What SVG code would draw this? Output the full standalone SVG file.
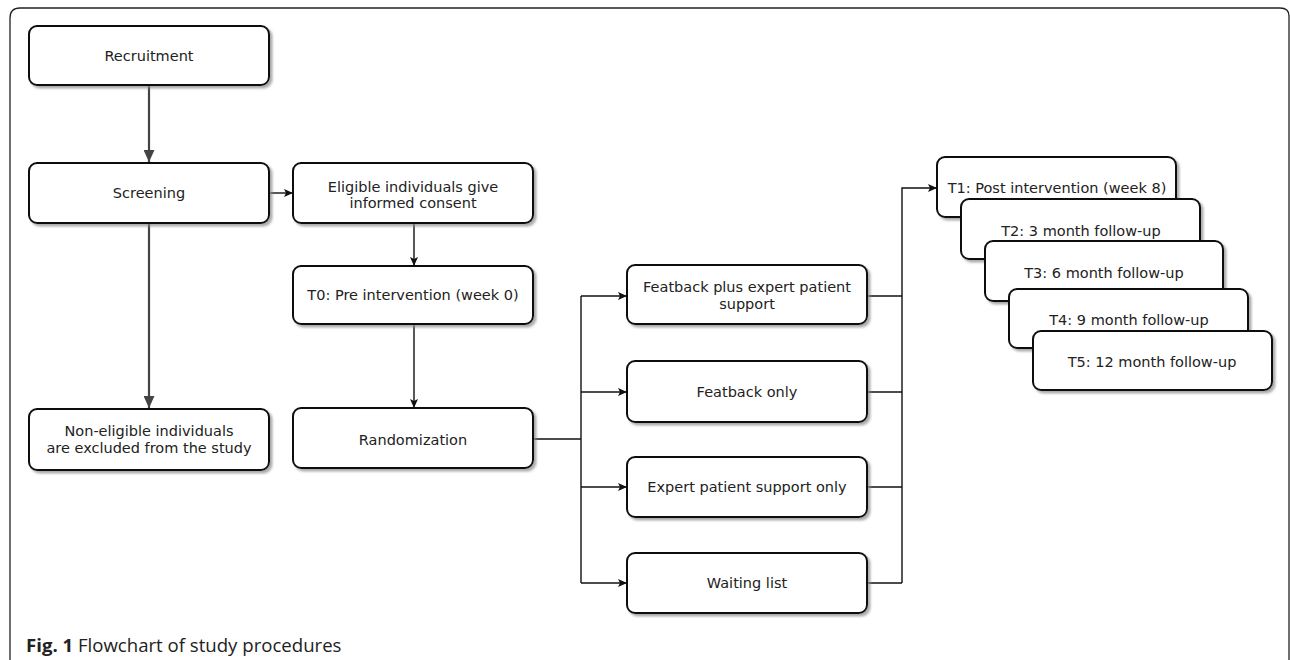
<svg xmlns="http://www.w3.org/2000/svg" width="1290" height="660" viewBox="0 0 1290 660">
<style>
.box{fill:#fff;stroke:#111;stroke-width:2;filter:url(#sh)}
.t{font-family:"DejaVu Sans",Verdana,sans-serif;font-size:14.5px;fill:#222;text-anchor:middle}
.g{fill:none;stroke:#444;stroke-width:2.2}
.k{fill:none;stroke:#111;stroke-width:1.4}
.cap{font-family:"Open Sans","Liberation Sans",sans-serif;font-size:18.6px;fill:#222}
</style>
<defs>
<filter id="sh" x="-10%" y="-10%" width="130%" height="140%">
<feDropShadow dx="2.5" dy="2.5" stdDeviation="1" flood-color="#888" flood-opacity="0.7"/>
</filter>
<marker id="ag" viewBox="0 0 12 11" refX="12" refY="5.5" markerWidth="12" markerHeight="11" markerUnits="userSpaceOnUse" orient="auto">
<path d="M0,0 L12,5.5 L0,11 z" fill="#444"/>
</marker>
<marker id="ak" viewBox="0 0 9 8" refX="9" refY="4" markerWidth="9" markerHeight="8" markerUnits="userSpaceOnUse" orient="auto">
<path d="M0,0 L9,4 L0,8 L2,4 z" fill="#111"/>
</marker>
</defs>
<rect width="1290" height="660" fill="#fff"/>
<path d="M10,662 V18 Q10,8 20,8 H1280 Q1289,8 1289,16 V662" fill="none" stroke="#222" stroke-width="1.3"/>

<g id="connectors">
<path class="g" d="M149,85 V162" marker-end="url(#ag)"/>
<path class="g" d="M149,223 V408" marker-end="url(#ag)"/>
<path class="k" d="M269,193 H293" marker-end="url(#ak)"/>
<path class="k" d="M414,223 V266" marker-end="url(#ak)"/>
<path class="k" d="M414,324 V408" marker-end="url(#ak)"/>
<path class="k" d="M533,439 H581"/>
<path class="k" d="M581,296 V583"/>
<path class="k" d="M581,296 H627" marker-end="url(#ak)"/>
<path class="k" d="M581,392 H627" marker-end="url(#ak)"/>
<path class="k" d="M581,487 H627" marker-end="url(#ak)"/>
<path class="k" d="M581,583 H627" marker-end="url(#ak)"/>
<path class="k" d="M867,296 H902"/>
<path class="k" d="M867,392 H902"/>
<path class="k" d="M867,487 H902"/>
<path class="k" d="M867,583 H902"/>
<path class="k" d="M902,583 V188 H937" marker-end="url(#ak)"/>
</g>

<g id="recruitment"><rect class="box" x="29" y="26" width="240" height="59" rx="8"/><text class="t" x="149" y="61">Recruitment</text></g>
<g id="screening"><rect class="box" x="29" y="163" width="240" height="60" rx="8"/><text class="t" x="149" y="198">Screening</text></g>
<g id="noneligible"><rect class="box" x="29" y="409" width="240" height="61" rx="8"/><text class="t" x="149" y="436">Non-eligible individuals</text><text class="t" x="149" y="453">are excluded from the study</text></g>
<g id="eligible"><rect class="box" x="293" y="163" width="240" height="60" rx="8"/><text class="t" x="413" y="192">Eligible individuals give</text><text class="t" x="413" y="208">informed consent</text></g>
<g id="t0"><rect class="box" x="293" y="266" width="240" height="58" rx="8"/><text class="t" x="413" y="300">T0: Pre intervention (week 0)</text></g>
<g id="randomization"><rect class="box" x="293" y="408" width="240" height="60" rx="8"/><text class="t" x="413" y="445">Randomization</text></g>

<g id="arm1"><rect class="box" x="627" y="265" width="240" height="59" rx="8"/><text class="t" x="747" y="292">Featback plus expert patient</text><text class="t" x="747" y="309">support</text></g>
<g id="arm2"><rect class="box" x="627" y="361" width="240" height="61" rx="8"/><text class="t" x="747" y="397">Featback only</text></g>
<g id="arm3"><rect class="box" x="627" y="457" width="240" height="60" rx="8"/><text class="t" x="747" y="492">Expert patient support only</text></g>
<g id="arm4"><rect class="box" x="627" y="553" width="240" height="60" rx="8"/><text class="t" x="747" y="588">Waiting list</text></g>

<g id="t1"><rect class="box" x="937" y="157" width="239" height="60" rx="8"/><text class="t" x="1057" y="193">T1: Post intervention (week 8)</text></g>
<g id="t2"><rect class="box" x="961" y="199" width="239" height="60" rx="8"/><text class="t" x="1081" y="236">T2: 3 month follow-up</text></g>
<g id="t3"><rect class="box" x="985" y="241" width="238" height="60" rx="8"/><text class="t" x="1104" y="278">T3: 6 month follow-up</text></g>
<g id="t4"><rect class="box" x="1009" y="289" width="239" height="59" rx="8"/><text class="t" x="1129" y="325">T4: 9 month follow-up</text></g>
<g id="t5"><rect class="box" x="1033" y="331" width="239" height="59" rx="8"/><text class="t" x="1152" y="367">T5: 12 month follow-up</text></g>

<text class="cap" x="26" y="652"><tspan font-weight="bold">Fig. 1</tspan> Flowchart of study procedures</text>
</svg>
